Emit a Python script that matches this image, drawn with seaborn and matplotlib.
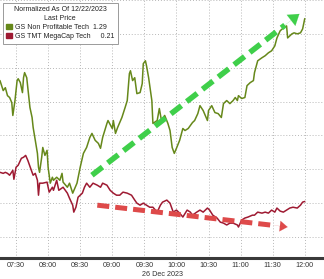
import numpy as np
import pandas as pd
import matplotlib
matplotlib.use("Agg")
import matplotlib.pyplot as plt
import matplotlib.dates as mdates
from matplotlib.patches import Patch
import seaborn as sns

# ---- data (minutes after 07:15 on 26 Dec 2023, normalized value) ----
green_min = [0, 3, 5, 7, 9, 11, 12, 14, 16, 17, 19, 21, 22, 23, 25, 26, 28, 30, 31, 33,
             35, 36, 37, 39, 40, 42, 44, 45, 47, 49, 50, 53, 56, 58, 59, 63, 65, 68, 72, 75,
             78, 81, 84, 86, 89, 92, 94, 96, 100, 101, 105, 106, 108, 110, 114, 117, 119, 121, 122, 124,
             126, 128, 131, 133, 134, 136, 137, 139, 142, 143, 147, 149, 151, 154, 157, 159, 161, 163, 165, 168,
             171, 173, 176, 180, 182, 185, 187, 190, 194, 195, 198, 201, 204, 207, 209, 212, 215, 218, 220, 222,
             223, 226, 229, 231, 234, 237, 238, 241, 245, 248, 251, 254, 257, 259, 262, 265, 268, 269, 273, 275,
             278, 281, 283, 285]
green_val = [0.924, 0.865, 0.882, 0.835, 0.824, 0.794, 0.718, 0.806, 0.924, 0.935, 0.912, 0.853, 0.941, 0.971, 0.941, 0.882, 0.765, 0.706, 0.647, 0.571,
             0.494, 0.412, 0.382, 0.471, 0.529, 0.482, 0.512, 0.412, 0.318, 0.353, 0.335, 0.353, 0.335, 0.376, 0.324, 0.294, 0.318, 0.259, 0.318, 0.412,
             0.494, 0.529, 0.588, 0.612, 0.571, 0.553, 0.524, 0.588, 0.671, 0.688, 0.641, 0.688, 0.612, 0.647, 0.706, 0.765, 0.806, 0.965, 0.982, 0.924,
             0.941, 0.847, 0.853, 0.906, 1.024, 1.041, 1.012, 0.941, 0.806, 0.671, 0.688, 0.759, 0.688, 0.718, 0.671, 0.629, 0.529, 0.494, 0.524, 0.571,
             0.641, 0.629, 0.641, 0.676, 0.688, 0.729, 0.776, 0.747, 0.688, 0.747, 0.776, 0.735, 0.729, 0.706, 0.788, 0.806, 0.788, 0.806, 0.824, 0.806,
             0.835, 0.818, 0.824, 0.894, 0.912, 0.924, 0.971, 1.041, 1.059, 1.071, 1.088, 1.100, 1.129, 1.176, 1.218, 1.235, 1.247, 1.176, 1.200, 1.206,
             1.200, 1.206, 1.229, 1.29]

red_min = [0, 3, 5, 7, 9, 12, 13, 15, 17, 20, 22, 24, 26, 30, 31, 33, 35, 36, 37, 40,
           44, 46, 49, 50, 53, 55, 59, 63, 65, 68, 69, 71, 73, 77, 79, 81, 84, 87, 91, 94,
           96, 100, 103, 106, 109, 112, 115, 119, 123, 126, 128, 131, 134, 137, 140, 143, 147, 150, 152, 156,
           159, 162, 165, 168, 171, 175, 178, 180, 184, 187, 190, 194, 196, 199, 203, 206, 209, 212, 215, 218,
           222, 223, 226, 229, 232, 236, 238, 241, 245, 248, 251, 254, 257, 259, 262, 265, 268, 271, 274, 278,
           281, 283, 285]
red_val = [0.382, 0.376, 0.382, 0.376, 0.365, 0.394, 0.341, 0.412, 0.424, 0.465, 0.471, 0.482, 0.453, 0.382, 0.365, 0.376, 0.335, 0.247, 0.318, 0.318,
           0.324, 0.265, 0.294, 0.276, 0.335, 0.276, 0.294, 0.259, 0.229, 0.188, 0.147, 0.176, 0.235, 0.259, 0.294, 0.318, 0.294, 0.318, 0.306, 0.294,
           0.318, 0.306, 0.276, 0.259, 0.247, 0.247, 0.265, 0.259, 0.247, 0.218, 0.200, 0.188, 0.200, 0.188, 0.176, 0.176, 0.147, 0.188, 0.206, 0.218,
           0.200, 0.147, 0.159, 0.141, 0.118, 0.159, 0.147, 0.129, 0.147, 0.159, 0.147, 0.171, 0.159, 0.129, 0.112, 0.088, 0.082, 0.071, 0.082, 0.082,
           0.071, 0.059, 0.100, 0.112, 0.118, 0.129, 0.129, 0.147, 0.141, 0.147, 0.141, 0.159, 0.147, 0.171, 0.153, 0.147, 0.159, 0.171, 0.176, 0.171,
           0.188, 0.206, 0.21]

series_names = ["GS Non Profitable Tech", "GS TMT MegaCap Tech"]
last_prices = ["1.29", "0.21"]
legend_title = "Normalized As Of 12/22/2023\nLast Price"
date_label = "26 Dec 2023"

# trend arrows (annotations): (start_min, start_val, end_min, end_val)
green_arrow = [86, 0.365, 280, 1.318]
red_arrow = [91, 0.188, 269, 0.059]

# ---- build frame ----
t0 = pd.Timestamp("2023-12-26 07:15")
df = pd.concat([
    pd.DataFrame({"time": t0 + pd.to_timedelta(green_min, unit="m"), "value": green_val, "series": series_names[0]}),
    pd.DataFrame({"time": t0 + pd.to_timedelta(red_min, unit="m"), "value": red_val, "series": series_names[1]}),
])

GREEN = "#66881a"
RED = "#9e1a32"

sns.set_style("white")
plt.rcParams["font.family"] = ["Liberation Sans", "DejaVu Sans"]

fig = plt.figure(figsize=(3.24, 2.79), dpi=100)
ax = fig.add_axes([0, 21 / 279, 1, 258 / 279])

sns.lineplot(data=df, x="time", y="value", hue="series", palette=[GREEN, RED],
             linewidth=1.1, ax=ax, legend=False)

ax.set_xlim(t0, t0 + pd.Timedelta(minutes=303))
ax.set_ylim(-0.124, 1.394)

# grid
ax.xaxis.set_major_locator(mdates.MinuteLocator(byminute=[0, 30]))
ax.xaxis.set_major_formatter(mdates.DateFormatter("%H:%M"))
ax.set_yticks(np.arange(0, 1.41, 0.2))
ax.grid(True, which="major", color="#b8b8b8", linestyle=(0, (1, 2)), linewidth=0.7)
ax.tick_params(axis="y", left=False, labelleft=False)
ax.tick_params(axis="x", direction="in", length=2.5, width=0.6, color="#444444",
               labelsize=5.2, labelcolor="#333333", pad=3.0)
for s in ["top", "left", "right"]:
    ax.spines[s].set_visible(False)
ax.spines["bottom"].set_linewidth(2.2)
ax.spines["bottom"].set_color("#3a3a3a")
ax.set_xlabel(date_label, fontsize=5.2, color="#333333", labelpad=1.2)
ax.set_ylabel("")

# arrows
def dashed_arrow(spec, color, lw, head_w, head_l):
    x0 = t0 + pd.Timedelta(minutes=spec[0])
    x1 = t0 + pd.Timedelta(minutes=spec[2])
    xs0, xs1 = mdates.date2num(x0), mdates.date2num(x1)
    frac = 0.93
    xm = xs0 + (xs1 - xs0) * frac
    ym = spec[1] + (spec[3] - spec[1]) * frac
    ax.plot([xs0, xm], [spec[1], ym], color=color, lw=lw, ls=(0, (2.4, 1.2)),
            solid_capstyle="butt", dash_capstyle="butt", zorder=5)
    ax.annotate("", xy=(xs1, spec[3]), xytext=(xm, ym),
                arrowprops=dict(arrowstyle=f"-|>,head_width={head_w},head_length={head_l}",
                                color=color, lw=0.1, shrinkA=0, shrinkB=0), zorder=5)

dashed_arrow(green_arrow, "#3fcf4a", 4.0, 0.5, 0.75)
dashed_arrow(red_arrow, "#de4a4a", 3.6, 0.38, 0.55)

# legend
handles = [Patch(facecolor=GREEN, edgecolor=GREEN), Patch(facecolor=RED, edgecolor=RED)]
labels = [f"{series_names[0]}  {last_prices[0]}", f"{series_names[1]}     {last_prices[1]}"]
leg = ax.legend(handles, labels, title=legend_title, loc="upper left",
                bbox_to_anchor=(0.008, 0.99), fontsize=5.0, title_fontsize=5.0,
                handlelength=0.85, handleheight=0.85, handletextpad=0.45,
                borderpad=0.5, labelspacing=0.3, frameon=True, fancybox=False,
                borderaxespad=0)
leg.get_title().set_multialignment("center")
leg.get_title().set_linespacing(1.3)
leg.get_frame().set_edgecolor("#9a9a9a")
leg.get_frame().set_linewidth(0.7)
leg.get_frame().set_alpha(1)
for t in leg.get_texts():
    t.set_color("#222222")
leg.get_title().set_color("#222222")
leg.set_zorder(10)

fig.savefig("out.png", dpi=100)
